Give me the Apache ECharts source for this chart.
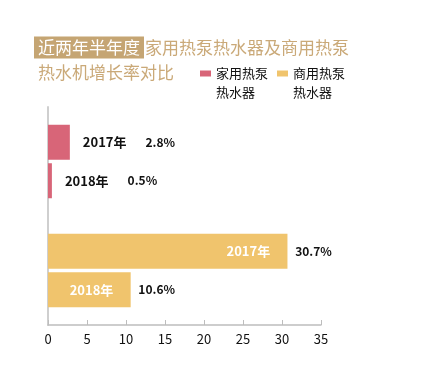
<!DOCTYPE html>
<html><head><meta charset="utf-8">
<script src="https://cdn.jsdelivr.net/npm/echarts@6/dist/echarts.min.js"></script>
<style>html,body{margin:0;padding:0;background:#fff}#c{width:429px;height:381px}</style>
</head><body><div id="c"></div>
<script>
const categories = ['家用热泵热水器', '商用热泵热水器'];
const legendNames = ['家用热泵\n热水器', '商用热泵\n热水器'];
const years = ['2017年', '2018年'];
const values2017 = [2.8, 30.7];
const values2018 = [0.5, 10.6];
const xTicks = [0, 5, 10, 15, 20, 25, 30, 35];

const colors = ['#d86578', '#f0c46d'];
const FONT = '"Noto Sans CJK SC", "Noto Sans", sans-serif';
const chart = echarts.init(document.getElementById('c'), null, {renderer: 'canvas'});

function yearSeries(name, values) {
  return {
    name: name, type: 'bar', barWidth: 35, barGap: '10%',
    data: values.map((v, i) => {
      const red = i === 0;
      return {
        value: v,
        itemStyle: {color: colors[i]},
        label: red ? {
          show: true, position: 'right', distance: 13,
          formatter: '{y|' + name + '}{v|' + v + '%}'
        } : {
          show: true, position: 'right', distance: 0, offset: [-61, 0],
          formatter: '{w|' + name + '}{v2|' + v + '%}'
        }
      };
    }),
    label: {
      fontFamily: FONT,
      rich: {
        y: {fontFamily: FONT, fontSize: 13, fontWeight: 'bold', color: '#111'},
        v: {fontFamily: FONT, fontSize: 12, fontWeight: 'bold', color: '#111', padding: [0, 0, 0, 19]},
        w: {fontFamily: FONT, fontSize: 13, fontWeight: 'bold', color: '#fff'},
        v2: {fontFamily: FONT, fontSize: 12, fontWeight: 'bold', color: '#111', padding: [0, 0, 0, 25]}
      }
    }
  };
}

chart.setOption({
  animation: false,
  title: {
    left: 34, top: 35, padding: 0,
    text: '{hl|近两年半年度}{t|家用热泵热水器及商用热泵}\n{t2|热水机增长率对比}',
    textStyle: {
      fontFamily: FONT, fontWeight: 'normal',
      rich: {
        hl: {fontFamily: FONT, fontWeight: 'normal', fontSize: 17, color: '#fff', backgroundColor: '#c5a573', padding: [3, 4, 2, 4], lineHeight: 25},
        t: {fontFamily: FONT, fontWeight: 'normal', fontSize: 17, color: '#caa978', lineHeight: 25, padding: [0, 0, 0, 1]},
        t2: {fontFamily: FONT, fontWeight: 'normal', fontSize: 17, color: '#caa978', lineHeight: 25, padding: [0, 0, 0, 4]}
      }
    }
  },
  legend: {
    left: 200, top: 45, padding: 0, itemGap: 9,
    itemWidth: 11, itemHeight: 6,
    data: categories.map(n => ({name: n, icon: 'rect'})),
    formatter: function (n) { return '\n' + legendNames[categories.indexOf(n)]; },
    textStyle: {fontFamily: FONT, fontSize: 13, color: '#111', lineHeight: 19}
  },
  grid: {left: 48, right: 108, top: 107, bottom: 56, containLabel: false},
  xAxis: {
    type: 'value', min: xTicks[0], max: xTicks[xTicks.length - 1], interval: 5,
    axisLine: {show: true, lineStyle: {color: '#bdbdbd', width: 1.5}},
    axisTick: {show: true, inside: true, length: 5, lineStyle: {color: '#bdbdbd'}},
    splitLine: {show: false},
    axisLabel: {fontFamily: FONT, fontSize: 13, color: '#111', margin: 8}
  },
  yAxis: {
    type: 'category', inverse: true, data: categories,
    axisLine: {show: true, lineStyle: {color: '#cfcfcf', width: 2}},
    axisTick: {show: false}, axisLabel: {show: false}
  },
  series: [
    yearSeries(years[0], values2017),
    yearSeries(years[1], values2018),
    {name: categories[0], type: 'line', data: [], itemStyle: {color: colors[0]}},
    {name: categories[1], type: 'line', data: [], itemStyle: {color: colors[1]}}
  ]
});
</script></body></html>
